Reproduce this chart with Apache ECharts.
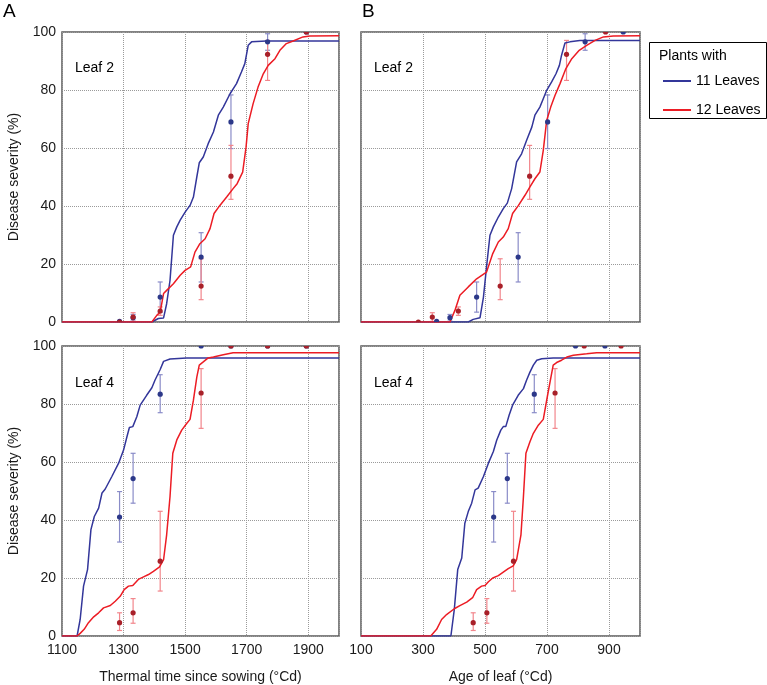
<!DOCTYPE html>
<html>
<head>
<meta charset="utf-8">
<script src="https://cdn.jsdelivr.net/npm/echarts@6/dist/echarts.min.js"></script>
<style>
html,body{margin:0;padding:0;background:#fff;}
#chart{width:767px;height:685px;}
</style>
</head>
<body>
<div id="chart"></div>
<script>
// ---------------- DATA ----------------
var seriesNames = ['11 Leaves', '12 Leaves'];
var yTicks = [0, 20, 40, 60, 80, 100];
var thermalTicks = [1100, 1300, 1500, 1700, 1900];
var ageTicks = [100, 300, 500, 700, 900];

// Observation times (thermal time since sowing)
var obsThermal = [1287, 1331, 1419, 1552, 1649, 1768, 1894];

// Panel A, Leaf 2 – model curves [thermal time, severity]
var A2_blue_line = [[1100,0],[1392,0],[1413,1.2],[1430,1.4],[1440,6.3],[1451,14.4],[1462,29.9],[1473,32.8],[1484,35.1],[1500,37.9],[1516,40.2],[1527,43.1],[1538,50.0],[1546,54.9],[1559,56.9],[1575,61.5],[1592,65.5],[1608,71.3],[1624,74.1],[1646,78.7],[1667,82.2],[1683,86.2],[1694,89.1],[1705,95.4],[1716,96.6],[1764,96.9],[2000,96.9]];
var A2_red_line = [[1100,0],[1392,0],[1408,2.3],[1419,3.4],[1430,9.8],[1440,10.9],[1462,13.2],[1484,16.1],[1500,17.8],[1518,19.0],[1532,24.1],[1548,27.0],[1565,28.7],[1581,32.2],[1594,37.4],[1613,40.2],[1635,43.1],[1656,46.0],[1669,47.7],[1687,51.7],[1698,60.3],[1705,68.4],[1721,75.3],[1737,81.0],[1754,85.6],[1770,88.5],[1792,90.8],[1808,93.7],[1829,96.0],[1851,96.9],[1883,98.3],[1905,98.6],[2000,98.7]];

// Leaf 2 observations (mean, low, high)
var L2_blue_mean = [0.2, 1.5, 8.6, 22.4, 69.0, 96.6, 100];
var L2_blue_low  = [0.2, 0.3, 3.4, 13.8, 59.8, 93.7, 100];
var L2_blue_high = [0.2, 2.6, 13.8, 30.8, 78.3, 99.4, 100];
var L2_red_mean  = [0, 1.7, 3.8, 12.4, 50.3, 92.3, 100];
var L2_red_low   = [0, 0.2, 2.3, 7.7, 42.3, 83.3, 100];
var L2_red_high  = [0, 3.2, 5.2, 21.8, 60.9, 97.1, 100];

// Leaf 2 ages at observation
var L2_blue_age = [344, 387, 473, 607, 702, 823, 946];
var L2_red_age  = [285, 330, 414, 549, 644, 763, 889];

// Panel B, Leaf 2 – model curves [age of leaf, severity]
var B2_blue_line = [[100,0],[446,0],[462,0.9],[484,1.5],[495,8.6],[505,19.0],[516,29.9],[527,32.8],[543,36.2],[559,39.1],[572,41.0],[586,46.0],[602,55.2],[618,58.0],[634,62.6],[651,67.2],[661,71.3],[677,74.1],[688,77.0],[699,79.9],[715,82.8],[729,85.6],[740,88.5],[747,92.0],[758,96.2],[774,96.6],[806,97.1],[1000,97.1]];
var B2_red_line = [[100,0],[387,0],[403,4.0],[419,9.2],[446,12.1],[473,14.9],[505,17.2],[525,23.6],[543,27.6],[559,29.3],[575,32.2],[589,37.4],[608,40.2],[629,43.7],[645,46.6],[661,49.4],[677,51.7],[688,59.2],[699,69.5],[712,74.1],[726,78.2],[742,82.2],[761,87.4],[780,90.8],[804,93.7],[828,95.4],[855,97.1],[882,98.3],[914,98.6],[1000,98.7]];

// Panel A, Leaf 4 – model curves
var A4_blue_line = [[1100,0],[1149,0],[1159,5.7],[1170,17.2],[1183,22.9],[1194,36.7],[1205,41.2],[1219,44.1],[1230,49.3],[1240,50.6],[1262,55.0],[1284,59.6],[1300,64.1],[1311,68.7],[1319,71.9],[1330,72.2],[1343,75.6],[1354,79.6],[1375,83.0],[1392,85.6],[1402,88.2],[1419,91.9],[1430,94.7],[1451,95.5],[1505,95.9],[2000,95.9]];
var A4_red_line = [[1100,0],[1149,0],[1159,0.9],[1172,2.3],[1186,4.6],[1203,6.6],[1219,8.0],[1235,9.7],[1257,10.5],[1273,12.0],[1289,13.7],[1302,16.0],[1316,17.2],[1330,17.4],[1348,19.5],[1365,20.4],[1381,21.2],[1397,22.3],[1417,23.8],[1430,26.3],[1440,34.9],[1451,48.1],[1460,63.0],[1473,67.6],[1489,71.0],[1505,73.3],[1516,74.7],[1527,81.3],[1538,89.3],[1546,93.4],[1559,94.5],[1575,95.9],[1592,96.2],[1624,97.0],[1656,97.7],[2000,97.7]];

// Leaf 4 observations
var L4_blue_mean = [41.0, 54.3, 83.4, 100, 100, 100, 100];
var L4_blue_low  = [32.4, 45.8, 77.0, 100, 100, 100, 100];
var L4_blue_high = [49.8, 63.0, 90.1, 100, 100, 100, 100];
var L4_red_mean  = [4.6, 8.0, 25.8, 83.8, 100, 100, 100];
var L4_red_low   = [1.9, 4.4, 15.5, 71.6, 100, 100, 100];
var L4_red_high  = [8.0, 12.9, 43.0, 92.2, 100, 100, 100];

// Leaf 4 ages at observation (only those within 100–1000)
var L4_blue_age = [528, 572, 659, 792, 887];
var L4_red_age  = [462, 506, 592, 726, 820, 939];

// Panel B, Leaf 4 – model curves
var B4_blue_line = [[100,0],[390,0],[401,9.2],[412,22.9],[425,26.9],[435,38.9],[446,42.9],[457,45.8],[468,50.4],[478,51.0],[495,55.0],[511,59.6],[527,63.6],[538,67.6],[551,71.0],[559,72.2],[567,72.2],[578,76.2],[589,79.6],[607,83.0],[624,85.3],[634,88.2],[645,91.0],[656,93.4],[667,95.1],[683,95.6],[720,95.9],[1000,95.9]];
var B4_red_line = [[100,0],[325,0],[344,2.3],[360,5.7],[376,7.4],[401,9.4],[419,10.5],[441,11.7],[460,13.2],[473,16.0],[489,17.2],[500,17.4],[511,18.7],[525,20.0],[543,20.8],[559,22.0],[575,23.2],[591,24.2],[602,26.3],[616,34.9],[624,48.1],[632,63.0],[645,67.0],[656,69.9],[672,72.7],[688,74.7],[701,82.5],[712,88.8],[720,93.4],[731,94.3],[747,95.1],[764,96.2],[785,96.8],[828,97.3],[860,97.7],[1000,97.7]];

// ---------------- STYLE ----------------
var FONT = '"Liberation Sans", Arial, Helvetica, sans-serif';
var C = {
  blueLine: '#33369a', redLine: '#ec1c24',
  blueBar: '#8a8cc8', redBar: '#f2868c',
  blueDot: '#2c3889', redDot: '#a82029'
};

function pts(xs, mean, lo, hi) {
  var out = [];
  for (var i = 0; i < xs.length; i++) out.push([xs[i], mean[i], lo[i], hi[i]]);
  return out;
}

function errSeries(idx, data, color, name) {
  return {
    type: 'custom', name: name, xAxisIndex: idx, yAxisIndex: idx, clip: true, z: 3,
    encode: { x: 0, y: [1, 2, 3] },
    data: data,
    renderItem: function (params, api) {
      var x = api.value(0), lo = api.value(2), hi = api.value(3);
      if (hi - lo < 0.01) return { type: 'group', children: [] };
      var a = api.coord([x, lo]), b = api.coord([x, hi]);
      var st = { stroke: color, lineWidth: 1.2 };
      return { type: 'group', children: [
        { type: 'line', shape: { x1: a[0], y1: a[1], x2: b[0], y2: b[1] }, style: st },
        { type: 'line', shape: { x1: a[0]-2.5, y1: a[1], x2: a[0]+2.5, y2: a[1] }, style: st },
        { type: 'line', shape: { x1: b[0]-2.5, y1: b[1], x2: b[0]+2.5, y2: b[1] }, style: st }
      ]};
    }
  };
}

function dotSeries(idx, data, color, name) {
  return {
    type: 'custom', name: name, xAxisIndex: idx, yAxisIndex: idx, clip: true, z: 5,
    encode: { x: 0, y: 1 },
    data: data,
    renderItem: function (params, api) {
      var p = api.coord([api.value(0), api.value(1)]);
      return { type: 'circle', shape: { cx: p[0], cy: p[1], r: 2.6 }, style: { fill: color } };
    }
  };
}

function lineSeries(idx, data, color, name) {
  return {
    type: 'line', name: name, xAxisIndex: idx, yAxisIndex: idx,
    data: data, symbol: 'none', showSymbol: false, z: 4,
    lineStyle: { color: color, width: 1.5 }, itemStyle: { color: color },
    animation: false
  };
}

var grids = [
  { left: 62, top: 32, width: 277, height: 290 },
  { left: 361, top: 32, width: 279, height: 290 },
  { left: 62, top: 346, width: 277, height: 291 },
  { left: 361, top: 346, width: 279, height: 291 }
].map(function (g) {
  g.show = true; g.borderColor = '#5a5a5a'; g.borderWidth = 1.5; g.backgroundColor = '#fff'; g.containLabel = false;
  return g;
});

var splitStyle = { show: true, lineStyle: { type: 'dotted', color: '#9a9a9a', width: 1 } };

function xAx(idx, isThermal, showLabels, name) {
  var ticks = isThermal ? thermalTicks : ageTicks;
  return {
    type: 'value', gridIndex: idx,
    min: ticks[0], max: ticks[0] + 900, interval: ticks[1] - ticks[0],
    axisLine: { show: false }, axisTick: { show: false },
    splitLine: splitStyle,
    axisLabel: { show: showLabels, showMaxLabel: false, showMinLabel: true, color: '#1a1a1a', fontSize: 14, fontFamily: FONT, margin: 7,
                 formatter: function (v) { return String(v); } },
    name: name, nameLocation: 'middle', nameGap: 34,
    nameTextStyle: { color: '#1a1a1a', fontSize: 14, fontFamily: FONT }
  };
}
function yAx(idx, showLabels) {
  return {
    type: 'value', gridIndex: idx,
    min: yTicks[0], max: yTicks[yTicks.length - 1], interval: yTicks[1] - yTicks[0],
    axisLine: { show: false }, axisTick: { show: false },
    splitLine: splitStyle,
    axisLabel: { show: showLabels, color: '#1a1a1a', fontSize: 14, fontFamily: FONT, margin: 6,
                 formatter: function (v) { return String(v); } },
    name: showLabels ? 'Disease severity (%)' : '', nameLocation: 'middle', nameGap: 41,
    nameTextStyle: { color: '#1a1a1a', fontSize: 14, fontFamily: FONT }
  };
}

var series = [];
// Panel 0: A Leaf 2
series.push(errSeries(0, pts(obsThermal, L2_blue_mean, L2_blue_low, L2_blue_high), C.blueBar, 'b-err'));
series.push(errSeries(0, pts(obsThermal, L2_red_mean, L2_red_low, L2_red_high), C.redBar, 'r-err'));
series.push(lineSeries(0, A2_blue_line, C.blueLine, seriesNames[0]));
series.push(lineSeries(0, A2_red_line, C.redLine, seriesNames[1]));
series.push(dotSeries(0, pts(obsThermal, L2_blue_mean, L2_blue_low, L2_blue_high), C.blueDot, 'b-pt'));
series.push(dotSeries(0, pts(obsThermal, L2_red_mean, L2_red_low, L2_red_high), C.redDot, 'r-pt'));
// Panel 1: B Leaf 2
series.push(errSeries(1, pts(L2_blue_age, L2_blue_mean, L2_blue_low, L2_blue_high), C.blueBar, 'b-err'));
series.push(errSeries(1, pts(L2_red_age, L2_red_mean, L2_red_low, L2_red_high), C.redBar, 'r-err'));
series.push(lineSeries(1, B2_blue_line, C.blueLine, seriesNames[0]));
series.push(lineSeries(1, B2_red_line, C.redLine, seriesNames[1]));
series.push(dotSeries(1, pts(L2_blue_age, L2_blue_mean, L2_blue_low, L2_blue_high), C.blueDot, 'b-pt'));
series.push(dotSeries(1, pts(L2_red_age, L2_red_mean, L2_red_low, L2_red_high), C.redDot, 'r-pt'));
// Panel 2: A Leaf 4
series.push(errSeries(2, pts(obsThermal, L4_blue_mean, L4_blue_low, L4_blue_high), C.blueBar, 'b-err'));
series.push(errSeries(2, pts(obsThermal, L4_red_mean, L4_red_low, L4_red_high), C.redBar, 'r-err'));
series.push(lineSeries(2, A4_blue_line, C.blueLine, seriesNames[0]));
series.push(lineSeries(2, A4_red_line, C.redLine, seriesNames[1]));
series.push(dotSeries(2, pts(obsThermal, L4_blue_mean, L4_blue_low, L4_blue_high), C.blueDot, 'b-pt'));
series.push(dotSeries(2, pts(obsThermal, L4_red_mean, L4_red_low, L4_red_high), C.redDot, 'r-pt'));
// Panel 3: B Leaf 4
series.push(errSeries(3, pts(L4_blue_age, L4_blue_mean, L4_blue_low, L4_blue_high), C.blueBar, 'b-err'));
series.push(errSeries(3, pts(L4_red_age, L4_red_mean, L4_red_low, L4_red_high), C.redBar, 'r-err'));
series.push(lineSeries(3, B4_blue_line, C.blueLine, seriesNames[0]));
series.push(lineSeries(3, B4_red_line, C.redLine, seriesNames[1]));
series.push(dotSeries(3, pts(L4_blue_age, L4_blue_mean, L4_blue_low, L4_blue_high), C.blueDot, 'b-pt'));
series.push(dotSeries(3, pts(L4_red_age, L4_red_mean, L4_red_low, L4_red_high), C.redDot, 'r-pt'));

var txt = function (x, y, s, size) {
  return { type: 'text', left: x, top: y, z: 10, style: { text: s, fill: '#000', font: size + 'px ' + FONT } };
};

var option = {
  animation: false,
  backgroundColor: '#fff',
  grid: grids,
  xAxis: [xAx(0, true, false, ''), xAx(1, false, false, ''), xAx(2, true, true, 'Thermal time since sowing (°Cd)'), xAx(3, false, true, 'Age of leaf (°Cd)')],
  yAxis: [yAx(0, true), yAx(1, false), yAx(2, true), yAx(3, false)],
  legend: {
    data: seriesNames, orient: 'vertical', left: 657, top: 69,
    itemWidth: 28, itemHeight: 14, itemGap: 15, selectedMode: false,
    itemStyle: { opacity: 0 },
    textStyle: { color: '#000', fontSize: 14, fontFamily: FONT }
  },
  graphic: [
    { type: 'rect', left: 649, top: 42, z: 1, shape: { width: 117, height: 76 }, style: { fill: '#fff', stroke: '#000', lineWidth: 1 } },
    txt(659, 49, 'Plants with', 14),
    txt(3, 2, 'A', 19),
    txt(362, 2, 'B', 19),
    txt(75, 61, 'Leaf 2', 14),
    txt(374, 61, 'Leaf 2', 14),
    txt(75, 376, 'Leaf 4', 14),
    txt(374, 376, 'Leaf 4', 14)
  ],
  series: series
};

var chart = echarts.init(document.getElementById('chart'), null, { renderer: 'canvas' });
chart.setOption(option);
</script>
</body>
</html>
